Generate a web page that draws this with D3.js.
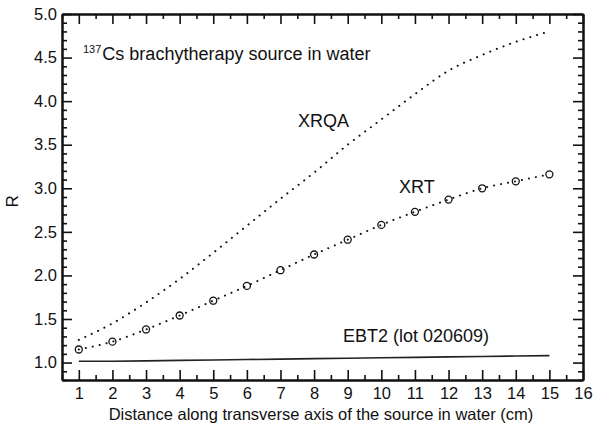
<!DOCTYPE html>
<html>
<head>
<meta charset="utf-8">
<script src="https://cdn.jsdelivr.net/npm/d3@7"></script>
<style>
  body { margin: 0; background: #fff; }
  svg text { font-family: "Liberation Sans", Arial, sans-serif; fill: #111; }
</style>
</head>
<body>
<div class="chart"></div>
<script>
// data
const distance = [1, 2, 3, 4, 5, 6, 7, 8, 9, 10, 11, 12, 13, 14, 15]
const xrqa = [1.26, 1.45, 1.69, 1.96, 2.26, 2.57, 2.88, 3.18, 3.50, 3.79, 4.08, 4.35, 4.53, 4.68, 4.80]
const xrt = [1.15, 1.24, 1.38, 1.54, 1.71, 1.88, 2.06, 2.24, 2.41, 2.58, 2.73, 2.87, 3.00, 3.08, 3.16]
const ebt2 = [1.015, 1.015, 1.02, 1.025, 1.03, 1.035, 1.04, 1.045, 1.05, 1.055, 1.06, 1.065, 1.07, 1.075, 1.08]

const xTicks = [1, 2, 3, 4, 5, 6, 7, 8, 9, 10, 11, 12, 13, 14, 15, 16]
const xMinor = [0.5, 1.5, 2.5, 3.5, 4.5, 5.5, 6.5, 7.5, 8.5, 9.5, 10.5, 11.5, 12.5, 13.5, 14.5, 15.5]
const yTicks = [1.0, 1.5, 2.0, 2.5, 3.0, 3.5, 4.0, 4.5, 5.0]

const w = 595
const h = 427
const padL = 62, padR = 583, padT = 14, padB = 380

const svg = d3.select(".chart")
  .append("svg")
  .attr("width", w)
  .attr("height", h)

const xScale = d3.scaleLinear().domain([0.5, 16]).range([padL, padR])
const yScale = d3.scaleLinear().domain([0.8, 5.0]).range([padB, padT])

// minor y ticks every 0.1
const yMinor = d3.range(8, 51).map(d => d / 10).filter(d => !yTicks.some(t => Math.abs(t - d) < 1e-9))

function styleAxis(g) {
  g.selectAll("path.domain").attr("stroke", "#111").attr("stroke-width", 2)
  g.selectAll(".tick line").attr("stroke", "#111").attr("stroke-width", 1.6)
  g.selectAll(".tick text").style("font-size", "16.5px").attr("fill", "#111")
}

// bottom
svg.append("g")
  .attr("transform", "translate(0," + padB + ")")
  .call(d3.axisBottom(xScale).tickValues(xTicks).tickFormat(d => d).tickSize(-10).tickSizeOuter(0).tickPadding(7))
  .call(styleAxis)
svg.append("g")
  .attr("transform", "translate(0," + padB + ")")
  .call(d3.axisBottom(xScale).tickValues(xMinor).tickFormat("").tickSize(-5).tickSizeOuter(0))
  .call(styleAxis)

// top
svg.append("g")
  .attr("transform", "translate(0," + padT + ")")
  .call(d3.axisTop(xScale).tickValues(xTicks).tickFormat("").tickSize(-10).tickSizeOuter(0))
  .call(styleAxis)
svg.append("g")
  .attr("transform", "translate(0," + padT + ")")
  .call(d3.axisTop(xScale).tickValues(xMinor).tickFormat("").tickSize(-5).tickSizeOuter(0))
  .call(styleAxis)

// left
svg.append("g")
  .attr("transform", "translate(" + padL + ",0)")
  .call(d3.axisLeft(yScale).tickValues(yTicks).tickFormat(d3.format(".1f")).tickSize(-10).tickSizeOuter(0).tickPadding(5))
  .call(styleAxis)
svg.append("g")
  .attr("transform", "translate(" + padL + ",0)")
  .call(d3.axisLeft(yScale).tickValues(yMinor).tickFormat("").tickSize(-5).tickSizeOuter(0))
  .call(styleAxis)

// right
svg.append("g")
  .attr("transform", "translate(" + padR + ",0)")
  .call(d3.axisRight(yScale).tickValues(yTicks).tickFormat("").tickSize(-10).tickSizeOuter(0))
  .call(styleAxis)
svg.append("g")
  .attr("transform", "translate(" + padR + ",0)")
  .call(d3.axisRight(yScale).tickValues(yMinor).tickFormat("").tickSize(-5).tickSizeOuter(0))
  .call(styleAxis)

// lines
const line = d3.line()
  .x((d, i) => xScale(distance[i]))
  .y(d => yScale(d))
  .curve(d3.curveMonotoneX)

svg.append("path")
  .attr("d", line(xrqa))
  .attr("fill", "none")
  .attr("stroke", "#111")
  .attr("stroke-width", 2)
  .attr("stroke-linecap", "round")
  .attr("stroke-dasharray", "0.1 7")

svg.append("path")
  .attr("d", line(xrt))
  .attr("fill", "none")
  .attr("stroke", "#111")
  .attr("stroke-width", 2)
  .attr("stroke-linecap", "round")
  .attr("stroke-dasharray", "0.1 7")

svg.append("path")
  .attr("d", d3.line().x((d, i) => xScale(distance[i])).y(d => yScale(d))(ebt2))
  .attr("fill", "none")
  .attr("stroke", "#222")
  .attr("stroke-width", 1.6)

svg.selectAll("circle.xrt")
  .data(xrt)
  .enter()
  .append("circle")
  .attr("class", "xrt")
  .attr("cx", (d, i) => xScale(distance[i]))
  .attr("cy", d => yScale(d))
  .attr("r", 3.5)
  .attr("fill", "none")
  .attr("stroke", "#111")
  .attr("stroke-width", 1.3)

// labels
const title = svg.append("text")
  .attr("x", 83)
  .attr("y", 60)
  .style("font-size", "18px")
title.append("tspan").text("137").style("font-size", "11px").attr("dy", "-7")
title.append("tspan").text("Cs brachytherapy source in water").attr("dy", "7").attr("dx", "1")

svg.append("text").attr("x", 298).attr("y", 127).style("font-size", "18px").text("XRQA")
svg.append("text").attr("x", 399).attr("y", 193).style("font-size", "18px").text("XRT")
svg.append("text").attr("x", 343).attr("y", 342).style("font-size", "18px").text("EBT2 (lot 020609)")

svg.append("text")
  .attr("x", 321)
  .attr("y", 420)
  .attr("text-anchor", "middle")
  .style("font-size", "16.5px")
  .text("Distance along transverse axis of the source in water (cm)")

svg.append("text")
  .attr("transform", "translate(18," + yScale(2.85) + ") rotate(-90)")
  .attr("text-anchor", "middle")
  .style("font-size", "17px")
  .text("R")
</script>
</body>
</html>
